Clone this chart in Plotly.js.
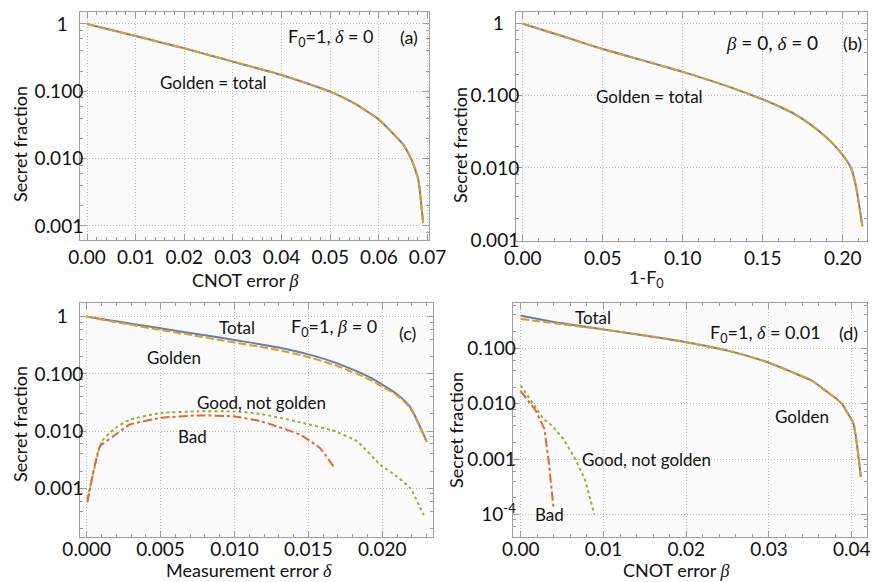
<!DOCTYPE html>
<html>
<head>
<meta charset="utf-8">
<script src="https://cdn.plot.ly/plotly-3.0.1.min.js"></script>
<style>
  html, body { margin: 0; padding: 0; background: #ffffff; }
  #chart { width: 873px; height: 582px; }
</style>
</head>
<body>
<div id="chart"></div>
<script>
// ---------- DATA ----------
// (a) F0=1, delta=0 ; x = CNOT error beta
const aX = [0, 0.005, 0.01, 0.015, 0.02, 0.025, 0.03, 0.035, 0.04, 0.045, 0.05, 0.055, 0.06, 0.0619, 0.065, 0.0667, 0.0675, 0.0681, 0.0691];
const aTotal = [1.0, 0.813, 0.664, 0.537, 0.435, 0.347, 0.276, 0.22, 0.175, 0.133, 0.099, 0.066, 0.038, 0.028, 0.0162, 0.0097, 0.0068, 0.0049, 0.0011];
const aGolden = [1.0, 0.813, 0.664, 0.537, 0.435, 0.347, 0.276, 0.22, 0.175, 0.133, 0.099, 0.066, 0.038, 0.028, 0.0162, 0.0097, 0.0068, 0.0049, 0.0011];

// (b) beta=0, delta=0 ; x = 1-F0
const bX = [0, 0.025, 0.05, 0.075, 0.1, 0.125, 0.14, 0.15, 0.16, 0.17, 0.18, 0.19, 0.195, 0.2, 0.205, 0.208, 0.2123];
const bTotal = [1.0, 0.67, 0.445, 0.31, 0.215, 0.143, 0.1084, 0.0891, 0.0716, 0.0556, 0.0398, 0.0263, 0.0204, 0.0151, 0.0102, 0.006, 0.00155];
const bGolden = [1.0, 0.67, 0.445, 0.31, 0.215, 0.143, 0.1084, 0.0891, 0.0716, 0.0556, 0.0398, 0.0263, 0.0204, 0.0151, 0.0102, 0.006, 0.00155];

// (c) F0=1, beta=0 ; x = measurement error delta
const cX = [0, 0.001, 0.002, 0.003, 0.005, 0.007, 0.009, 0.011, 0.013, 0.015, 0.017, 0.019, 0.020, 0.021, 0.0219, 0.023];
const cTotal = [1.0, 0.91, 0.828, 0.754, 0.625, 0.518, 0.43, 0.355, 0.288, 0.219, 0.151, 0.091, 0.065, 0.044, 0.026, 0.0066];
const cGolden = [1.0, 0.89, 0.80, 0.72, 0.585, 0.48, 0.39, 0.32, 0.258, 0.197, 0.136, 0.083, 0.06, 0.042, 0.025, 0.0064];
const cGoodX = [0.00005, 0.00023, 0.00102, 0.0018, 0.0029, 0.005, 0.0075, 0.00995, 0.0118, 0.01446, 0.01682, 0.0183, 0.01986, 0.021, 0.0219, 0.0228];
const cGood = [0.00067, 0.00107, 0.0066, 0.0106, 0.0158, 0.0207, 0.0221, 0.022, 0.0199, 0.0142, 0.0099, 0.0066, 0.0026, 0.0016, 0.001, 0.00034];
const cBadX = [0.00005, 0.0009, 0.0018, 0.0029, 0.005, 0.0075, 0.00995, 0.0118, 0.01446, 0.0158, 0.0168];
const cBad = [0.00057, 0.0054, 0.0081, 0.0129, 0.017, 0.0188, 0.0181, 0.0148, 0.0086, 0.005, 0.0022];

// (d) F0=1, delta=0.01 ; x = CNOT error beta
const dX = [0, 0.005, 0.01, 0.015, 0.02, 0.025, 0.03, 0.033, 0.0352, 0.037, 0.038, 0.0388, 0.0395, 0.0402, 0.0411];
const dTotal = [0.389, 0.283, 0.22, 0.17, 0.129, 0.091, 0.055, 0.036, 0.026, 0.0165, 0.0128, 0.01, 0.0068, 0.0044, 0.00048];
const dGolden = [0.339, 0.272, 0.218, 0.17, 0.129, 0.091, 0.055, 0.036, 0.026, 0.0165, 0.0128, 0.01, 0.0068, 0.0044, 0.00048];
const dGoodX = [0, 0.00092, 0.00274, 0.00374, 0.00516, 0.00657, 0.00778, 0.0089];
const dGood = [0.0214, 0.0132, 0.0053, 0.0041, 0.0023, 0.00102, 0.00042, 0.0001];
const dBadX = [0, 0.001, 0.0018, 0.00286, 0.00334, 0.00395];
const dBad = [0.0169, 0.0107, 0.0076, 0.0035, 0.00102, 0.000139];

// tick labels
const PADR = '<span style="color:rgba(0,0,0,0)">0.</span>';
const yTickVals3 = [0.001, 0.01, 0.1, 1];
const yTickText3 = ['0.001', '0.010', '0.100', '1' + PADR];
const yTickValsD = [0.0001, 0.001, 0.01, 0.1];
const yTickTextD = ['10<sup>-4</sup>', '0.001', '0.010', '0.100'];
const aXTicks = [0, 0.01, 0.02, 0.03, 0.04, 0.05, 0.06, 0.07];
const aXText = ['0.00', '0.01', '0.02', '0.03', '0.04', '0.05', '0.06', '0.07'];
const bXTicks = [0, 0.05, 0.10, 0.15, 0.20];
const bXText = ['0.00', '0.05', '0.10', '0.15', '0.20'];
const cXTicks = [0, 0.005, 0.010, 0.015, 0.020];
const cXText = ['0.000', '0.005', '0.010', '0.015', '0.020'];
const dXTicks = [0, 0.01, 0.02, 0.03, 0.04];
const dXText = ['0.00', '0.01', '0.02', '0.03', '0.04'];

// ---------- STYLE ----------
const BLUE = '#5E81B5', ORANGE = '#E19C24', GREEN = '#8FB032', RED = '#EB6235';
const FONT = 'Lato, "Open Sans", sans-serif';
const W = 873, H = 582;
const G = s => '<span style="font-family:\'Liberation Serif\',serif"><i>' + s + '</i></span>';

const minorLog = [];
for (let e = -5; e <= 1; e++) { [2, 4, 6, 8].forEach(m => minorLog.push(m * Math.pow(10, e))); }

function xAxis(px0, px1, range, tv, tt, mdt, anchor, standoff) {
  return {
    domain: [px0 / W, px1 / W], range: range, anchor: anchor,
    tickmode: 'array', tickvals: tv, ticktext: tt,
    ticks: 'inside', ticklen: 6, tickcolor: '#9a9a9a', tickwidth: 1,
    showline: true, linecolor: '#a0a0a0', linewidth: 1, mirror: 'ticks',
    showgrid: true, gridcolor: '#bdbdbd', griddash: '1px,2px', gridwidth: 1,
    zeroline: false, ticklabelstandoff: standoff,
    minor: { dtick: mdt, ticks: 'inside', ticklen: 3, tickcolor: '#9a9a9a', showgrid: false },
    tickfont: { family: FONT, size: 19, color: '#111' }
  };
}
function yAxis(py0, py1, range, tv, tt, anchor) {
  return {
    type: 'log', domain: [1 - py1 / H, 1 - py0 / H], range: range, anchor: anchor,
    tickmode: 'array', tickvals: tv, ticktext: tt,
    ticks: 'inside', ticklen: 6, tickcolor: '#9a9a9a', tickwidth: 1,
    showline: true, linecolor: '#a0a0a0', linewidth: 1, mirror: 'ticks',
    showgrid: true, gridcolor: '#bdbdbd', griddash: '1px,2px', gridwidth: 1,
    zeroline: false, ticklabelstandoff: -8,
    minor: { tickmode: 'array', tickvals: minorLog, ticks: 'inside', ticklen: 3, tickcolor: '#9a9a9a', showgrid: false },
    tickfont: { family: FONT, size: 19, color: '#111' }
  };
}

function tr(x, y, xa, ya, color, dash, smooth) {
  const line = { color: color, width: 2, dash: dash };
  if (smooth) { line.shape = 'spline'; line.smoothing = smooth; }
  return { x: x, y: y, xaxis: xa, yaxis: ya, type: 'scatter', mode: 'lines',
    line: line, hoverinfo: 'skip', showlegend: false };
}
const DASHG = '8px,3px';

const data = [
  tr(aX, aTotal, 'x', 'y', BLUE, 'solid', 0.6),
  tr(aX, aGolden, 'x', 'y', ORANGE, DASHG, 0.6),
  tr(bX, bTotal, 'x2', 'y2', BLUE, 'solid', 0.6),
  tr(bX, bGolden, 'x2', 'y2', ORANGE, DASHG, 0.6),
  tr(cX, cTotal, 'x3', 'y3', BLUE, 'solid', 0.6),
  tr(cX, cGolden, 'x3', 'y3', ORANGE, DASHG, 0.6),
  tr(cGoodX, cGood, 'x3', 'y3', GREEN, 'dot', 0.4),
  tr(cBadX, cBad, 'x3', 'y3', RED, 'dashdot', 0.4),
  tr(dX, dTotal, 'x4', 'y4', BLUE, 'solid', 0.6),
  tr(dX, dGolden, 'x4', 'y4', ORANGE, DASHG, 0.6),
  tr(dGoodX, dGood, 'x4', 'y4', GREEN, 'dot', 0),
  tr(dBadX, dBad, 'x4', 'y4', RED, 'dashdot', 0)
];

function ann(text, px, py, size, rot) {
  return { text: text, xref: 'paper', yref: 'paper', x: px / W, y: 1 - py / H,
    xanchor: 'center', yanchor: 'middle', showarrow: false, textangle: rot || 0,
    font: { family: FONT, size: size || 17, color: '#111' } };
}

const annotations = [
  // axis titles
  ann('Secret fraction', 20, 144, 18, -90),
  ann('Secret fraction', 460, 145, 18, -90),
  ann('Secret fraction', 20, 424, 18, -90),
  ann('Secret fraction', 456, 430, 18, -90),
  ann('CNOT error ' + G('β'), 245, 280, 18),
  ann('1-F<sub>0</sub>', 646, 278, 18),
  ann('Measurement error ' + G('δ'), 249, 570, 18),
  ann('CNOT error ' + G('β'), 676, 570, 18),
  // panel (a)
  ann('F<sub>0</sub>=1, ' + G('δ') + ' = 0', 331, 37, 18),
  ann('(a)', 409, 37, 18),
  ann('Golden = total', 213, 83, 17),
  // panel (b)
  ann(G('β') + ' = 0, ' + G('δ') + ' = 0', 772, 43, 19),
  ann('(b)', 852, 43, 18),
  ann('Golden = total', 649, 97, 17),
  // panel (c)
  ann('Total', 237, 327, 17),
  ann('F<sub>0</sub>=1, ' + G('β') + ' = 0', 334, 327, 18),
  ann('(c)', 407, 333, 18),
  ann('Golden', 174, 357, 17),
  ann('Good, not golden', 261, 402, 17),
  ann('Bad', 192, 436, 17),
  // panel (d)
  ann('Total', 593, 317, 17),
  ann('F<sub>0</sub>=1, ' + G('δ') + ' = 0.01', 765, 333, 18),
  ann('(d)', 848, 333, 18),
  ann('Golden', 802, 416, 17),
  ann('Good, not golden', 646, 459, 17),
  ann('Bad', 549, 514, 17)
];

const layout = {
  width: W, height: H,
  margin: { l: 0, r: 0, t: 0, b: 0 },
  paper_bgcolor: '#ffffff', plot_bgcolor: '#fbfbfb',
  showlegend: false,
  xaxis: xAxis(80, 429, [-0.00144, 0.0703], aXTicks, aXText, 0.002, 'y', 0),
  yaxis: yAxis(12, 240, [-3.208, 0.178], yTickVals3, yTickText3, 'x'),
  xaxis2: xAxis(516, 866.7, [-0.0042, 0.215], bXTicks, bXText, 0.01, 'y2', 0),
  yaxis2: yAxis(11.7, 240.7, [-3.01, 0.167], yTickVals3, yTickText3, 'x2'),
  xaxis3: xAxis(80, 432.7, [-0.00045, 0.02341], cXTicks, cXText, 0.001, 'y3', -5),
  yaxis3: yAxis(303.3, 537.3, [-3.856, 0.233], yTickVals3, yTickText3, 'x3'),
  xaxis4: xAxis(512.7, 867.3, [-0.00097, 0.04188], dXTicks, dXText, 0.002, 'y4', -5),
  yaxis4: yAxis(303.3, 536.7, [-4.40, -0.187], yTickValsD, yTickTextD, 'x4'),
  annotations: annotations
};

Plotly.newPlot('chart', data, layout, { displayModeBar: false, staticPlot: true });
</script>
</body>
</html>
